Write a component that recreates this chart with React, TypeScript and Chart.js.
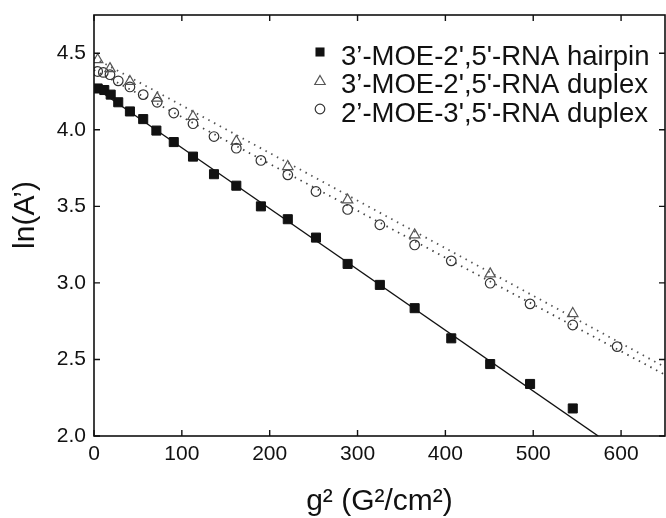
import React, { useEffect, useRef } from "react";
import { Chart, registerables } from "chart.js";

Chart.register(...registerables);

const hairpinX = [4.2, 11.7, 19, 27.6, 40.9, 56, 71, 90.8, 112.7, 136.6, 162, 190, 220.6, 252.7, 288.7, 325.4, 365, 406.7, 451, 496.4, 545];
const hairpinY = [4.27, 4.26, 4.23, 4.18, 4.12, 4.07, 3.995, 3.92, 3.825, 3.71, 3.635, 3.5, 3.416, 3.296, 3.124, 2.987, 2.835, 2.638, 2.47, 2.34, 2.18];

const triX = [4.2, 18.2, 40.9, 71.9, 112.7, 162, 220.6, 288.7, 365, 451, 545];
const triY = [4.458, 4.4, 4.316, 4.207, 4.087, 3.924, 3.76, 3.542, 3.314, 3.059, 2.8];

const circX = [4.2, 10.6, 18.2, 27.6, 40.9, 56, 71.9, 90.8, 112.7, 136.6, 162, 190, 220.6, 252.7, 288.7, 325.4, 365, 406.7, 451, 496.4, 545, 595.5];
const circY = [4.381, 4.375, 4.36, 4.32, 4.28, 4.23, 4.18, 4.11, 4.04, 3.956, 3.88, 3.8, 3.706, 3.597, 3.48, 3.38, 3.248, 3.144, 2.998, 2.863, 2.725, 2.584];

const hairpinFitX = [0, 574];
const hairpinFitY = [4.28, 2.0];
const triFitX = [0, 650];
const triFitY = [4.47, 2.45];
const circFitX = [0, 650];
const circFitY = [4.39, 2.4];

const seriesLabels = [
  "3\u2019-MOE-2',5'-RNA hairpin",
  "3\u2019-MOE-2',5'-RNA duplex",
  "2\u2019-MOE-3',5'-RNA duplex",
];

const xTitle = "g\u00b2 (G\u00b2/cm\u00b2)";
const yTitle = "ln(A\u2019)";

const xTicks = [0, 100, 200, 300, 400, 500, 600];
const yTicks = [2.0, 2.5, 3.0, 3.5, 4.0, 4.5];

const FONT = "'Liberation Sans', Arial, sans-serif";

const zip = (xs: number[], ys: number[]) => xs.map((x, i) => ({ x, y: ys[i] }));

const zeroPadding = () => ({ left: 0, top: 0, right: 0, bottom: 0 });

const framePlugin = {
  id: "frameTicks",
  afterDraw(chart: any) {
    const { ctx, chartArea } = chart;
    const { left, right, top, bottom } = chartArea;
    const xs = chart.scales.x;
    const ys = chart.scales.y;
    ctx.save();
    ctx.strokeStyle = "#111";
    ctx.lineWidth = 1.6;
    ctx.strokeRect(left, top, right - left, bottom - top);
    const tl = 6;
    ctx.lineWidth = 1.4;
    ctx.beginPath();
    xTicks.forEach((v) => {
      const px = xs.getPixelForValue(v);
      ctx.moveTo(px, bottom);
      ctx.lineTo(px, bottom - tl);
      ctx.moveTo(px, top);
      ctx.lineTo(px, top + tl);
    });
    yTicks.forEach((v) => {
      const py = ys.getPixelForValue(v);
      ctx.moveTo(left, py);
      ctx.lineTo(left + tl, py);
      ctx.moveTo(right, py);
      ctx.lineTo(right - tl, py);
    });
    ctx.stroke();

    // y axis title
    ctx.save();
    ctx.translate(26, 215);
    ctx.rotate(-Math.PI / 2);
    ctx.font = `30px ${FONT}`;
    ctx.fillStyle = "#111";
    ctx.textAlign = "center";
    ctx.textBaseline = "middle";
    ctx.fillText(yTitle, 0, 0);
    ctx.restore();

    // legend inside plot area
    const lx = 320;
    const tx = 341;
    const markerRows = [52, 80, 109];
    const textRows = [57, 85.5, 114];
    ctx.font = `27.5px ${FONT}`;
    ctx.textBaseline = "middle";
    ctx.textAlign = "left";
    ctx.fillStyle = "#111";
    chart.data.datasets.forEach((ds: any) => {
      if (!ds.inLegend) return;
      const y = markerRows[ds.legendIndex];
      ctx.save();
      ctx.lineWidth = ds.borderWidth;
      ctx.strokeStyle = ds.borderColor;
      ctx.fillStyle = ds.backgroundColor;
      const r = ds.pointRadius;
      ctx.beginPath();
      if (ds.pointStyle === "rect") {
        const s = Math.SQRT1_2 * r;
        ctx.rect(lx - s, y - s, 2 * s, 2 * s);
        ctx.fill();
      } else if (ds.pointStyle === "triangle") {
        for (let k = 0; k < 3; k++) {
          const a = (k * 2 * Math.PI) / 3;
          const px = lx + Math.sin(a) * r;
          const py = y + 1.5 - Math.cos(a) * r;
          if (k === 0) ctx.moveTo(px, py);
          else ctx.lineTo(px, py);
        }
        ctx.closePath();
        ctx.stroke();
      } else {
        ctx.arc(lx, y, r, 0, Math.PI * 2);
        ctx.stroke();
      }
      ctx.restore();
      ctx.fillText(ds.label, tx, textRows[ds.legendIndex]);
    });
    ctx.restore();
  },
};

export default function App() {
  const ref = useRef<HTMLCanvasElement | null>(null);
  useEffect(() => {
    document.body.style.margin = "0";
    const canvas = ref.current!;
    const chart = new Chart(canvas, {
      type: "scatter",
      data: {
        datasets: [
          {
            label: seriesLabels[0],
            data: zip(hairpinX, hairpinY),
            pointStyle: "rect",
            pointRadius: 6.4,
            backgroundColor: "#111",
            borderColor: "#111",
            borderWidth: 1,
            inLegend: true,
            legendIndex: 0,
          } as any,
          {
            label: seriesLabels[1],
            data: zip(triX, triY),
            pointStyle: "triangle",
            pointRadius: 6,
            backgroundColor: "rgba(0,0,0,0)",
            borderColor: "#555",
            borderWidth: 1.2,
            inLegend: true,
            legendIndex: 1,
          } as any,
          {
            label: seriesLabels[2],
            data: zip(circX, circY),
            pointStyle: "circle",
            pointRadius: 4.8,
            backgroundColor: "rgba(0,0,0,0)",
            borderColor: "#333",
            borderWidth: 1.2,
            inLegend: true,
            legendIndex: 2,
          } as any,
          {
            label: "hairpin fit",
            data: zip(hairpinFitX, hairpinFitY),
            showLine: true,
            pointRadius: 0,
            borderColor: "#111",
            borderWidth: 1.4,
          },
          {
            label: "duplex fit 1",
            data: zip(triFitX, triFitY),
            showLine: true,
            pointRadius: 0,
            borderColor: "#555",
            borderWidth: 1.8,
            borderDash: [1.5, 5],
          },
          {
            label: "duplex fit 2",
            data: zip(circFitX, circFitY),
            showLine: true,
            pointRadius: 0,
            borderColor: "#444",
            borderWidth: 1.8,
            borderDash: [1.5, 5],
          },
        ],
      },
      options: {
        animation: false,
        responsive: false,
        layout: { autoPadding: false, padding: { top: 15, right: 1, left: 0, bottom: 0 } },
        plugins: {
          legend: { display: false },
          tooltip: { enabled: false },
        },
        scales: {
          x: {
            type: "linear",
            min: 0,
            max: 650,
            afterBuildTicks: (s: any) => {
              s.ticks = xTicks.map((v) => ({ value: v }));
            },
            afterFit: (s: any) => {
              s.height = 82;
              s.paddingLeft = 0;
              s.paddingRight = 0;
              s.getPadding = zeroPadding;
            },
            grid: { display: false, drawTicks: false },
            border: { display: false },
            ticks: {
              padding: 6,
              color: "#111",
              font: { family: FONT, size: 21 },
              maxRotation: 0,
              callback: (v: any) => String(v),
            },
            title: {
              display: true,
              text: xTitle,
              color: "#111",
              font: { family: FONT, size: 30, lineHeight: 1 },
              padding: { top: 0, bottom: 1 },
            },
          },
          y: {
            type: "linear",
            min: 2.0,
            max: 4.75,
            afterBuildTicks: (s: any) => {
              s.ticks = yTicks.map((v) => ({ value: v }));
            },
            afterFit: (s: any) => {
              s.width = 94;
              s.paddingTop = 0;
              s.paddingBottom = 0;
              s.getPadding = zeroPadding;
            },
            grid: { display: false, drawTicks: false },
            border: { display: false },
            ticks: {
              padding: 8,
              color: "#111",
              font: { family: FONT, size: 21 },
              callback: (v: any) => Number(v).toFixed(1),
            },
          },
        },
      },
      plugins: [framePlugin],
    });
    return () => chart.destroy();
  }, []);
  return (
    <div style={{ width: 666, height: 518 }}>
      <canvas ref={ref} width={666} height={518} style={{ display: "block" }} />
    </div>
  );
}
